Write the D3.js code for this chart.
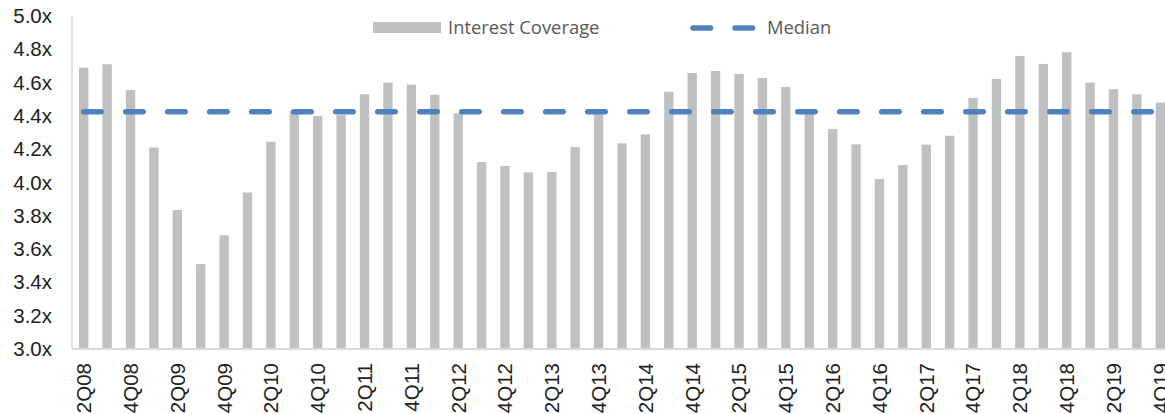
<!DOCTYPE html>
<html>
<head>
<meta charset="utf-8">
<script src="https://cdn.jsdelivr.net/npm/d3@7"></script>
<style>
  html, body { margin: 0; padding: 0; background: #fff; overflow: hidden; }
  svg { display: block; }
</style>
</head>
<body>
<div id="chart"></div>
<script>
const quarters = [
  "2Q08","3Q08","4Q08",
  "1Q09","2Q09","3Q09","4Q09",
  "1Q10","2Q10","3Q10","4Q10",
  "1Q11","2Q11","3Q11","4Q11",
  "1Q12","2Q12","3Q12","4Q12",
  "1Q13","2Q13","3Q13","4Q13",
  "1Q14","2Q14","3Q14","4Q14",
  "1Q15","2Q15","3Q15","4Q15",
  "1Q16","2Q16","3Q16","4Q16",
  "1Q17","2Q17","3Q17","4Q17",
  "1Q18","2Q18","3Q18","4Q18",
  "1Q19","2Q19","3Q19","4Q19"
];
const interestCoverage = [
  4.69, 4.71, 4.555,
  4.21, 3.835, 3.51, 3.683,
  3.94, 4.245, 4.43, 4.40,
  4.405, 4.53, 4.60, 4.588,
  4.527, 4.415, 4.123, 4.099,
  4.061, 4.063, 4.213, 4.411,
  4.235, 4.289, 4.545, 4.658,
  4.67, 4.652, 4.628, 4.574,
  4.44, 4.321, 4.229, 4.021,
  4.105, 4.227, 4.281, 4.508,
  4.622, 4.76, 4.712, 4.782,
  4.60, 4.56, 4.53, 4.48
];
const medianValue = 4.425;
const yTicks = [3.0, 3.2, 3.4, 3.6, 3.8, 4.0, 4.2, 4.4, 4.6, 4.8, 5.0];
const seriesNames = ["Interest Coverage", "Median"];

const W = 1165, H = 414;
const plotLeft = 72, plotRight = 1172, plotTop = 16, plotBottom = 349;

const svg = d3.select("#chart").append("svg").attr("width", W).attr("height", H);

const x = d3.scaleBand().domain(quarters).range([plotLeft, plotRight]).paddingInner(0.6).paddingOuter(0.3);
const y = d3.scaleLinear().domain([3.0, 5.0]).range([plotBottom, plotTop]);

// bars
svg.append("g").selectAll("rect").data(quarters).join("rect")
  .attr("x", d => x(d))
  .attr("width", x.bandwidth())
  .attr("y", (d, i) => y(interestCoverage[i]))
  .attr("height", (d, i) => y(3.0) - y(interestCoverage[i]))
  .attr("fill", "#bfc0c2");

// axes lines
svg.append("line").attr("x1", plotLeft).attr("x2", plotLeft).attr("y1", plotTop).attr("y2", plotBottom)
  .attr("stroke", "#d9d9d9").attr("stroke-width", 1.5);
svg.append("line").attr("x1", plotLeft).attr("x2", W).attr("y1", plotBottom).attr("y2", plotBottom)
  .attr("stroke", "#d9d9d9").attr("stroke-width", 2);

// y axis labels
const yAxis = d3.axisLeft(y).tickValues(yTicks).tickSize(0).tickPadding(20).tickFormat(d => d3.format(".1f")(d) + "x");
const gy = svg.append("g").attr("transform", `translate(${plotLeft},0)`).call(yAxis);
gy.select(".domain").remove();
gy.selectAll("text").attr("font-family", "Liberation Sans, Arial, sans-serif").attr("font-size", 20.5).attr("fill", "#222");

// x axis labels (every other quarter)
const xLabels = quarters.filter((q, i) => i % 2 === 0);
svg.append("g").selectAll("text").data(xLabels).join("text")
  .attr("transform", d => `translate(${x(d) + x.bandwidth() / 2},363) rotate(-90)`)
  .attr("text-anchor", "end")
  .attr("dy", "0.36em")
  .attr("font-family", "Liberation Sans, Arial, sans-serif")
  .attr("font-size", 20.5)
  .attr("fill", "#222")
  .text(d => d);

// median dashed line
const line = d3.line().x(d => x(d) + x.bandwidth() / 2).y(() => y(medianValue));
svg.append("path").datum(quarters).attr("d", line)
  .attr("fill", "none").attr("stroke", "#4f81bd").attr("stroke-width", 5.5)
  .attr("stroke-linecap", "round").attr("stroke-dasharray", "17.5,24.5");

// legend
const leg = svg.append("g");
leg.append("rect").attr("x", 373).attr("y", 22).attr("width", 68).attr("height", 11).attr("fill", "#bfc0c2");
leg.append("text").attr("x", 448).attr("y", 28).attr("dy", "0.35em")
  .attr("font-family", "Open Sans, sans-serif").attr("font-size", 18.4).attr("fill", "#595959")
  .text(seriesNames[0]);
leg.append("line").attr("x1", 693).attr("x2", 754).attr("y1", 28).attr("y2", 28)
  .attr("stroke", "#4f81bd").attr("stroke-width", 5.5).attr("stroke-linecap", "round")
  .attr("stroke-dasharray", "17.5,24.5");
leg.append("text").attr("x", 767).attr("y", 28).attr("dy", "0.35em")
  .attr("font-family", "Open Sans, sans-serif").attr("font-size", 18.4).attr("fill", "#595959")
  .text(seriesNames[1]);
</script>
</body>
</html>
